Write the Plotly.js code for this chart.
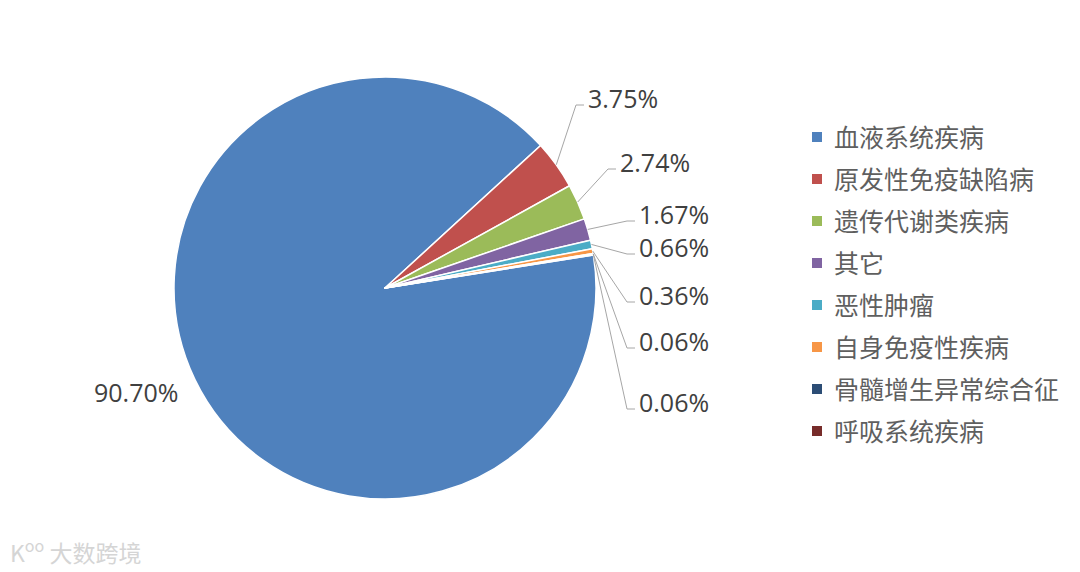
<!DOCTYPE html>
<html>
<head>
<meta charset="utf-8">
<script src="https://cdn.plot.ly/plotly-3.0.1.min.js"></script>
<style>html,body{margin:0;padding:0;background:#fff;}#chart{width:1080px;height:572px;}</style>
</head>
<body>
<div id="chart"></div>
<script>
// ---- data ----
const categories = ["血液系统疾病","原发性免疫缺陷病","遗传代谢类疾病","其它","恶性肿瘤","自身免疫性疾病","骨髓增生异常综合征","呼吸系统疾病"];
const shares = [90.70, 3.75, 2.74, 1.67, 0.66, 0.36, 0.06, 0.06];
const sliceLabels = ["90.70%","3.75%","2.74%","1.67%","0.66%","0.36%","0.06%","0.06%"];

// ---- styles / layout constants ----
const colors = ["#4F81BD","#C0504D","#9BBB59","#8064A2","#4BACC6","#F79646","#2C4D75","#772C2A"];
const W = 1080, H = 572;
const cx = 385, cy = 288, R = 211;       // pie placement (pixels)
const rotation = 81;
// label text anchor (left x, center y) in pixels
const labelLeft = [92, 586, 618, 637, 637, 637, 637, 637];
const labelMidY = [392, 98, 162, 214, 247, 295, 341, 402];
const hasLeader = [false, true, true, true, true, true, true, true];
const numFont = "Open Sans, Noto Sans, sans-serif";
const cjkFont = "Noto Sans CJK SC, sans-serif";

const px = x => x / W;
const py = y => 1 - y / H;

const trace = {
  type: "pie",
  labels: categories,
  values: shares,
  sort: false,
  direction: "clockwise",
  rotation: rotation,
  textinfo: "none",
  hoverinfo: "label+percent",
  marker: { colors: colors, line: { color: "#ffffff", width: 1.5 } },
  domain: { x: [px(cx - R), px(cx + R)], y: [py(cy + R), py(cy - R)] },
  showlegend: false
};

const total = shares.reduce((a, b) => a + b, 0);
const annotations = [];
const shapes = [];
let cum = 0;
shares.forEach((v, i) => {
  const midDeg = rotation + (cum + v / 2) / total * 360;
  cum += v;
  const a = midDeg * Math.PI / 180;
  const ax = cx + R * Math.sin(a);
  const ay = cy - R * Math.cos(a);
  annotations.push({
    xref: "paper", yref: "paper",
    x: px(labelLeft[i]), y: py(labelMidY[i]),
    xanchor: "left", yanchor: "middle",
    text: sliceLabels[i], showarrow: false,
    font: { family: numFont, size: 25, color: "#404040" }
  });
  if (hasLeader[i]) {
    const ex = labelLeft[i] - 10, ey = labelMidY[i] + 7;
    shapes.push({
      type: "path", xref: "paper", yref: "paper",
      path: `M${px(ax)},${py(ay)} L${px(ex)},${py(ey)} L${px(ex + 8)},${py(ey)}`,
      line: { color: "#A6A6A6", width: 1 }
    });
  }
});

// manual legend
const legX = 812, legY0 = 137, legStep = 42, sq = 10;
categories.forEach((c, i) => {
  const y = legY0 + i * legStep;
  shapes.push({
    type: "rect", xref: "paper", yref: "paper",
    x0: px(legX), x1: px(legX + sq), y0: py(y + sq / 2), y1: py(y - sq / 2),
    fillcolor: colors[i], line: { width: 0 }
  });
  annotations.push({
    xref: "paper", yref: "paper", x: px(legX + 20), y: py(y - 1),
    xanchor: "left", yanchor: "middle", showarrow: false,
    text: c, font: { family: cjkFont, size: 25, color: "#5F5F5F" }
  });
});

// watermark
annotations.push({
  xref: "paper", yref: "paper", x: px(8), y: py(551),
  xanchor: "left", yanchor: "middle", showarrow: false,
  text: "K<sup>oo</sup> 大数跨境",
  font: { family: cjkFont, size: 23, color: "#D5D5D5" }
});

const layout = {
  width: W, height: H,
  margin: { l: 0, r: 0, t: 0, b: 0 },
  paper_bgcolor: "#ffffff",
  plot_bgcolor: "#ffffff",
  showlegend: false,
  annotations: annotations,
  shapes: shapes
};

Plotly.newPlot("chart", [trace], layout, { displayModeBar: false, staticPlot: true });
</script>
</body>
</html>
